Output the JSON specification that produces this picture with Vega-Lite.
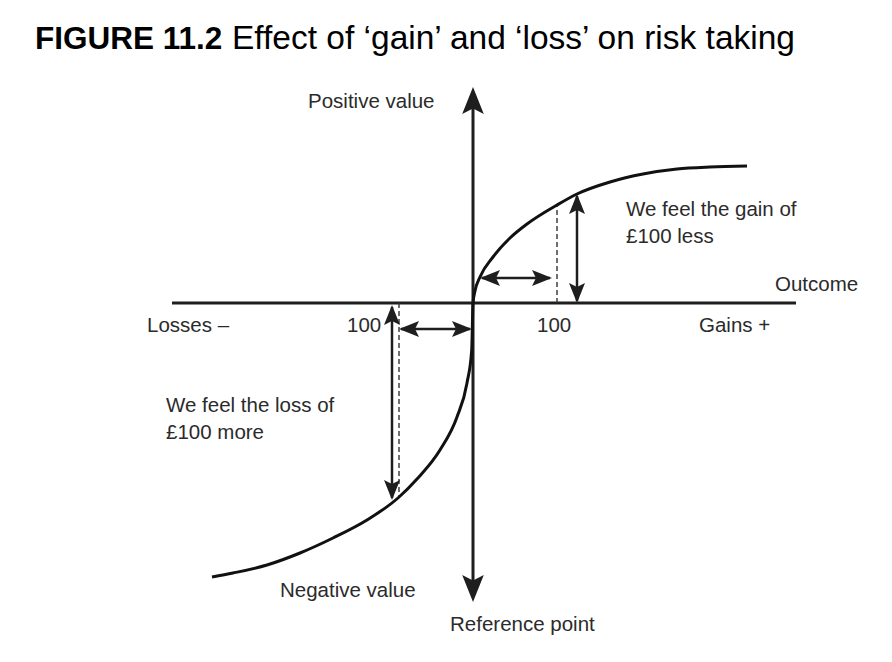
{
  "$schema": "https://vega.github.io/schema/vega-lite/v6.json",
  "width": 892,
  "height": 662,
  "autosize": {"type": "fit", "contains": "padding"},
  "padding": 0,
  "background": "white",
  "config": {"view": {"stroke": null}},
  "datasets": {
    "curve": [
      {"x": -261, "y": -274}, {"x": -240, "y": -270}, {"x": -206, "y": -262}, {"x": -173, "y": -250},
      {"x": -140, "y": -235}, {"x": -106, "y": -217}, {"x": -75, "y": -195}, {"x": -56, "y": -176},
      {"x": -33, "y": -147}, {"x": -16, "y": -114}, {"x": -6, "y": -80}, {"x": -1.3, "y": -47},
      {"x": 0, "y": 0}, {"x": 2, "y": 12}, {"x": 7, "y": 26}, {"x": 20, "y": 46},
      {"x": 37, "y": 65}, {"x": 54, "y": 79}, {"x": 84, "y": 98}, {"x": 104, "y": 109}, {"x": 137, "y": 121},
      {"x": 170, "y": 129}, {"x": 204, "y": 134}, {"x": 237, "y": 136}, {"x": 274, "y": 137}
    ],
    "axes": [
      {"x": -301, "y": 0, "x2": 323, "y2": 0},
      {"x": 0, "y": 206, "x2": 0, "y2": -289}
    ],
    "shafts": [
      {"x": 9, "y": 25, "x2": 77, "y2": 25},
      {"x": 104, "y": 107, "x2": 104, "y2": 2},
      {"x": -81, "y": -4, "x2": -81, "y2": -195},
      {"x": -72, "y": -26, "x2": -3, "y2": -26}
    ],
    "dashed": [
      {"x": 84, "y": 0, "x2": 84, "y2": 98},
      {"x": -74, "y": 0, "x2": -74, "y2": -193}
    ],
    "bigheads": [
      {"x": 0, "y": 216, "dir": 0},
      {"x": 0, "y": -299, "dir": 180}
    ],
    "smallheads": [
      {"x": 7, "y": 25, "dir": 270}, {"x": 79, "y": 25, "dir": 90},
      {"x": 104, "y": 109, "dir": 0}, {"x": 104, "y": 0, "dir": 180},
      {"x": -81, "y": -2, "dir": 0}, {"x": -81, "y": -197, "dir": 180},
      {"x": -74, "y": -26, "dir": 270}, {"x": -1, "y": -26, "dir": 90}
    ],
    "labels": [
      {"x": -165, "y": 195, "text": "Positive value"},
      {"x": 153, "y": 87, "text": "We feel the gain of"},
      {"x": 153, "y": 60, "text": "£100 less"},
      {"x": 302, "y": 12, "text": "Outcome"},
      {"x": -326, "y": -29, "text": "Losses –"},
      {"x": -126, "y": -29, "text": "100"},
      {"x": 64, "y": -29, "text": "100"},
      {"x": 226, "y": -29, "text": "Gains +"},
      {"x": -307, "y": -109, "text": "We feel the loss of"},
      {"x": -307, "y": -136, "text": "£100 more"},
      {"x": -193, "y": -294, "text": "Negative value"},
      {"x": -23, "y": -328, "text": "Reference point"}
    ],
    "titlebold": [{"x": -438, "y": 254, "text": "FIGURE 11.2"}],
    "titlerest": [{"x": -241, "y": 254, "text": "Effect of ‘gain’ and ‘loss’ on risk taking"}]
  },
  "layer": [
    {
      "data": {"name": "axes"},
      "mark": {"type": "rule", "strokeWidth": 3, "color": "#1e1e1e"},
      "encoding": {
        "x": {"field": "x", "type": "quantitative", "scale": {"domain": [-473, 419], "nice": false, "zero": false}, "axis": null},
        "y": {"field": "y", "type": "quantitative", "scale": {"domain": [-359, 303], "nice": false, "zero": false}, "axis": null},
        "x2": {"field": "x2"},
        "y2": {"field": "y2"}
      }
    },
    {
      "data": {"name": "shafts"},
      "mark": {"type": "rule", "strokeWidth": 2.5, "color": "#1e1e1e"},
      "encoding": {
        "x": {"field": "x", "type": "quantitative", "axis": null},
        "y": {"field": "y", "type": "quantitative", "axis": null},
        "x2": {"field": "x2"},
        "y2": {"field": "y2"}
      }
    },
    {
      "data": {"name": "dashed"},
      "mark": {"type": "rule", "strokeWidth": 1.4, "strokeDash": [5, 3], "color": "#333333"},
      "encoding": {
        "x": {"field": "x", "type": "quantitative", "axis": null},
        "y": {"field": "y", "type": "quantitative", "axis": null},
        "x2": {"field": "x2"},
        "y2": {"field": "y2"}
      }
    },
    {
      "data": {"name": "curve"},
      "mark": {"type": "line", "strokeWidth": 3, "color": "#111111", "interpolate": "monotone"},
      "encoding": {
        "x": {"field": "x", "type": "quantitative", "axis": null},
        "y": {"field": "y", "type": "quantitative", "axis": null}
      }
    },
    {
      "data": {"name": "bigheads"},
      "mark": {"type": "point", "filled": true, "opacity": 1, "size": 729, "color": "#1e1e1e", "shape": "M0,0 L0.8,2 L0,1.6 L-0.8,2 Z"},
      "encoding": {
        "x": {"field": "x", "type": "quantitative", "axis": null},
        "y": {"field": "y", "type": "quantitative", "axis": null},
        "angle": {"field": "dir", "type": "quantitative", "scale": null}
      }
    },
    {
      "data": {"name": "smallheads"},
      "mark": {"type": "point", "filled": true, "opacity": 1, "size": 400, "color": "#1e1e1e", "shape": "M0,0 L0.8,2 L0,1.6 L-0.8,2 Z"},
      "encoding": {
        "x": {"field": "x", "type": "quantitative", "axis": null},
        "y": {"field": "y", "type": "quantitative", "axis": null},
        "angle": {"field": "dir", "type": "quantitative", "scale": null}
      }
    },
    {
      "data": {"name": "labels"},
      "mark": {"type": "text", "align": "left", "baseline": "alphabetic", "font": "Liberation Sans", "fontSize": 20.5, "color": "#2b2b2b"},
      "encoding": {
        "x": {"field": "x", "type": "quantitative", "axis": null},
        "y": {"field": "y", "type": "quantitative", "axis": null},
        "text": {"field": "text"}
      }
    },
    {
      "data": {"name": "titlebold"},
      "mark": {"type": "text", "align": "left", "baseline": "alphabetic", "font": "Liberation Sans", "fontSize": 31.5, "fontWeight": "bold", "color": "#000000"},
      "encoding": {
        "x": {"field": "x", "type": "quantitative", "axis": null},
        "y": {"field": "y", "type": "quantitative", "axis": null},
        "text": {"field": "text"}
      }
    },
    {
      "data": {"name": "titlerest"},
      "mark": {"type": "text", "align": "left", "baseline": "alphabetic", "font": "Liberation Sans", "fontSize": 33.5, "color": "#000000"},
      "encoding": {
        "x": {"field": "x", "type": "quantitative", "axis": null},
        "y": {"field": "y", "type": "quantitative", "axis": null},
        "text": {"field": "text"}
      }
    }
  ]
}
